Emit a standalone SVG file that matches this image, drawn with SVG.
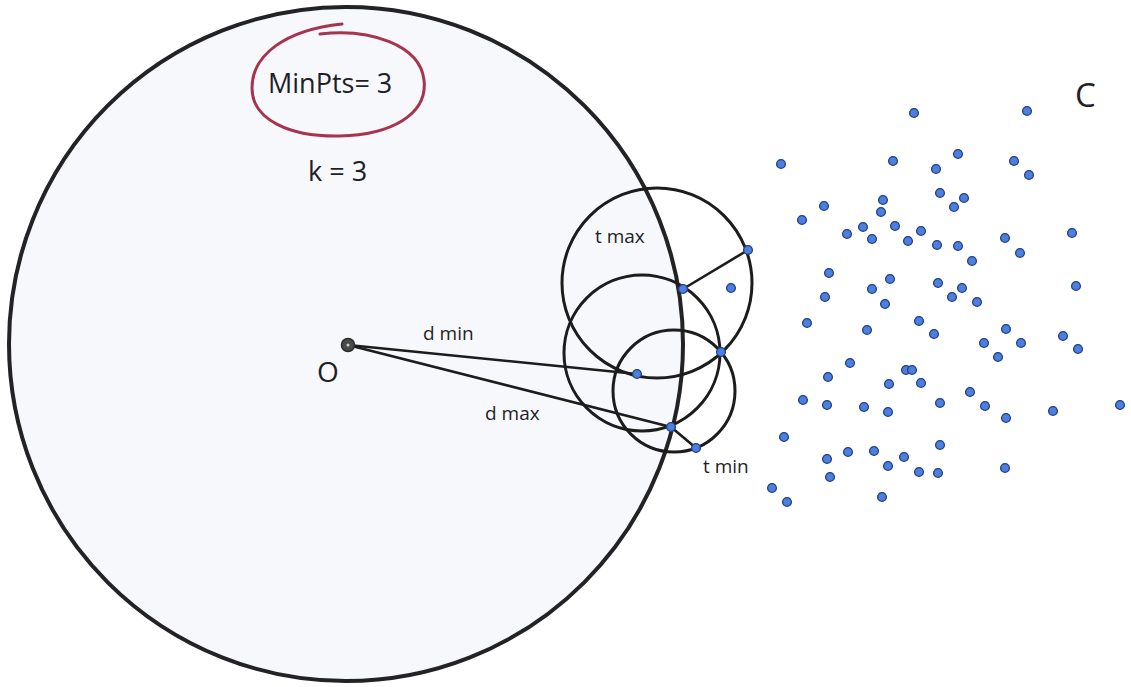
<svg xmlns="http://www.w3.org/2000/svg" width="1131" height="687" viewBox="0 0 1131 687">
<style>
.lbl{font-family:"Open Sans","Liberation Sans",sans-serif;fill:#1e1e2a}
.sm{font-size:19px}
.big{font-size:27px}
.pt{fill:#4d7fdc;stroke:#23408f;stroke-width:1.3}
.ring{fill:none;stroke:#1c1c1c;stroke-width:3}
.ln{stroke:#1c1c1c;stroke-width:2.6;fill:none;stroke-linecap:round}
</style>
<defs>
<circle id="d" r="4.4" class="pt"/>
</defs>
<rect width="1131" height="687" fill="#ffffff"/>
<g id="region-O">
<circle cx="346" cy="344" r="337" fill="#f7f8fb" stroke="#232326" stroke-width="4"/>
</g>
<g id="minpts">
<path d="M320 34 C 370 28, 420 45, 424 80 C 428 115, 390 135, 340 136 C 290 137, 252 120, 252 88 C 252 55, 285 30, 342 24" fill="none" stroke="#a8334f" stroke-width="3" stroke-linecap="round"/>
<text class="lbl big" x="268" y="93">MinPts= 3</text>
</g>
<g id="k">
<text class="lbl big" x="308" y="181">k = 3</text>
</g>
<g id="C">
<text class="lbl" x="1075" y="107" font-size="33">C</text>
</g>
<g id="circles">
<circle class="ring" cx="657" cy="283" r="95"/>
<circle class="ring" cx="642" cy="353" r="78"/>
<circle class="ring" cx="674" cy="391" r="61"/>
</g>
<g id="connectors">
<line class="ln" x1="348" y1="345" x2="637" y2="374"/>
<line class="ln" x1="348" y1="345" x2="671" y2="427"/>
<line class="ln" x1="683" y1="289" x2="748" y2="250"/>
<line class="ln" x1="671" y1="427" x2="696" y2="448"/>
</g>
<g id="O">
<circle cx="348" cy="345" r="6.5" fill="#4a4a4a" stroke="#2a2a2a" stroke-width="1.5"/>
<circle cx="348" cy="345" r="1.5" fill="#cfcfcf"/>
<text class="lbl" x="317" y="382" font-size="28">O</text>
</g>
<g id="labels">
<text class="lbl sm" x="423" y="340">d min</text>
<text class="lbl sm" x="485" y="420">d max</text>
<text class="lbl sm" x="595" y="243">t max</text>
<text class="lbl sm" x="703" y="473">t min</text>
</g>
<g id="points">
<use href="#d" x="748" y="250"/><use href="#d" x="731" y="288"/><use href="#d" x="683" y="289"/>
<use href="#d" x="721" y="352"/><use href="#d" x="637" y="374"/><use href="#d" x="671" y="427"/>
<use href="#d" x="696" y="448"/>
<use href="#d" x="914" y="113"/><use href="#d" x="1027" y="111"/><use href="#d" x="781" y="164"/>
<use href="#d" x="893" y="161"/><use href="#d" x="958" y="154"/><use href="#d" x="936" y="169"/>
<use href="#d" x="1014" y="161"/><use href="#d" x="1029" y="175"/><use href="#d" x="940" y="193"/>
<use href="#d" x="964" y="198"/><use href="#d" x="954" y="207"/><use href="#d" x="883" y="200"/>
<use href="#d" x="881" y="212"/><use href="#d" x="824" y="206"/><use href="#d" x="802" y="220"/>
<use href="#d" x="847" y="234"/><use href="#d" x="863" y="227"/><use href="#d" x="872" y="239"/>
<use href="#d" x="895" y="226"/><use href="#d" x="908" y="241"/><use href="#d" x="921" y="231"/>
<use href="#d" x="937" y="245"/><use href="#d" x="958" y="246"/><use href="#d" x="972" y="261"/>
<use href="#d" x="1005" y="238"/><use href="#d" x="1020" y="253"/><use href="#d" x="1072" y="233"/>
<use href="#d" x="829" y="273"/><use href="#d" x="890" y="279"/><use href="#d" x="872" y="289"/>
<use href="#d" x="938" y="283"/><use href="#d" x="962" y="288"/><use href="#d" x="952" y="297"/>
<use href="#d" x="977" y="302"/><use href="#d" x="1076" y="286"/><use href="#d" x="825" y="297"/>
<use href="#d" x="885" y="304"/><use href="#d" x="807" y="323"/><use href="#d" x="867" y="330"/>
<use href="#d" x="919" y="321"/><use href="#d" x="934" y="334"/><use href="#d" x="1006" y="329"/>
<use href="#d" x="984" y="343"/><use href="#d" x="1021" y="343"/><use href="#d" x="1063" y="336"/>
<use href="#d" x="1078" y="349"/><use href="#d" x="998" y="357"/><use href="#d" x="850" y="363"/>
<use href="#d" x="906" y="370"/><use href="#d" x="912" y="370"/><use href="#d" x="828" y="377"/>
<use href="#d" x="889" y="384"/><use href="#d" x="921" y="383"/><use href="#d" x="970" y="392"/>
<use href="#d" x="803" y="400"/><use href="#d" x="827" y="405"/><use href="#d" x="864" y="407"/>
<use href="#d" x="888" y="412"/><use href="#d" x="940" y="403"/><use href="#d" x="985" y="406"/>
<use href="#d" x="1006" y="418"/><use href="#d" x="1053" y="411"/><use href="#d" x="1120" y="405"/>
<use href="#d" x="784" y="437"/><use href="#d" x="940" y="445"/><use href="#d" x="827" y="459"/>
<use href="#d" x="848" y="452"/><use href="#d" x="874" y="451"/><use href="#d" x="904" y="457"/>
<use href="#d" x="888" y="466"/><use href="#d" x="919" y="472"/><use href="#d" x="938" y="473"/>
<use href="#d" x="1005" y="468"/><use href="#d" x="830" y="477"/><use href="#d" x="772" y="488"/>
<use href="#d" x="787" y="502"/><use href="#d" x="882" y="497"/>
</g>
</svg>
